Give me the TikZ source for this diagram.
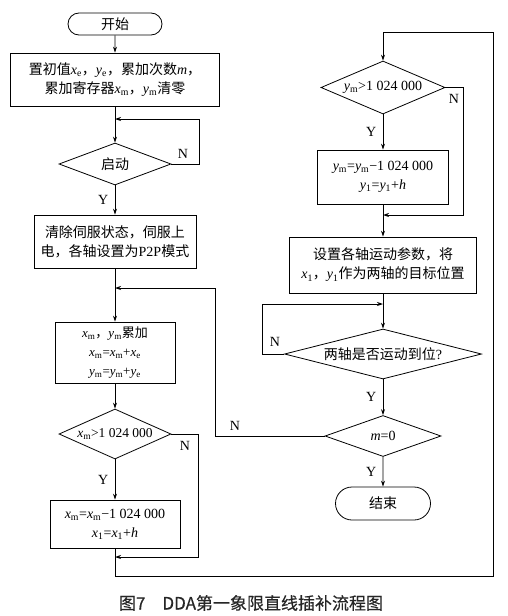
\documentclass[tikz,border=0pt]{standalone}
\usepackage{fontspec}
\setmainfont{Noto Sans CJK SC}
\newfontfamily\tnr{Liberation Serif}
\newfontfamily\capfont[FakeBold=0.4]{Noto Sans CJK SC}
\usetikzlibrary{positioning,shapes.geometric,shapes.misc,arrows.meta}
\tikzset{>={Stealth[length=6pt,width=4pt]}}
\newcommand\vs[2]{{\tnr\textit{#1}\textsubscript{#2}}}
\newcommand\vi[1]{{\tnr\textit{#1}}}
\newcommand\tn[1]{{\tnr #1}}
\begin{document}
\begin{tikzpicture}[x=1pt,y=-1pt,line width=0.8pt,
  every node/.style={font=\fontsize{14}{19}\selectfont},
  proc/.style={draw,rectangle,align=center,inner sep=0pt},
  test/.style={draw,diamond,inner sep=0pt},
  term/.style={draw,rounded rectangle,inner sep=0pt},
  yn/.style={font=\tnr\fontsize{14}{14}\selectfont}]
\useasboundingbox (0,0) rectangle (508,616);
% left column
\node[term,minimum width=94pt,minimum height=22pt] (start) at (115,24) {开始};
\node[proc,minimum width=209pt,minimum height=53pt] (init) at (115,79.5) {置初值\vs{x}{e}，\vs{y}{e}，累加次数\vi{m}，\\累加寄存器\vs{x}{m}，\vs{y}{m}清零};
\node[test,minimum width=112pt,minimum height=42pt,aspect=2.67] (go) at (115,164) {启动};
\node[proc,minimum width=162pt,minimum height=53pt] (servo) at (115,241.5) {清除伺服状态，伺服上\\电，各轴设置为\tn{P2P}模式};
\node[proc,minimum width=120pt,minimum height=61pt,font=\fontsize{13}{19}\selectfont] (acc) at (115,352.5) {\vs{x}{m}，\vs{y}{m}累加\\\vs{x}{m}\tn{=}\vs{x}{m}\tn{+}\vs{x}{e}\\\vs{y}{m}\tn{=}\vs{y}{m}\tn{+}\vs{y}{e}};
\node[test,minimum width=112pt,minimum height=50pt,aspect=2.24,font=\fontsize{13.5}{16}\selectfont] (xover) at (115,434) {\vs{x}{m}\tn{>1 024 000}};
\node[proc,minimum width=130pt,minimum height=48pt] (xstep) at (115,524) {\vs{x}{m}\tn{=}\vs{x}{m}\tn{−1 024 000}\\\vs{x}{1}\tn{=}\vs{x}{1}\tn{+}\vi{h}};
% right column
\node[test,minimum width=124pt,minimum height=53pt,aspect=2.34] (yover) at (383,87.5) {\vs{y}{m}\tn{>1 024 000}};
\node[proc,minimum width=131pt,minimum height=54pt] (ystep) at (383,177) {\vs{y}{m}\tn{=}\vs{y}{m}\tn{−1 024 000}\\\vs{y}{1}\tn{=}\vs{y}{1}\tn{+}\vi{h}};
\node[proc,minimum width=187pt,minimum height=56pt] (setp) at (383,265) {设置各轴运动参数，将\\\vs{x}{1}，\vs{y}{1}作为两轴的目标位置};
\node[test,minimum width=197pt,minimum height=50pt,aspect=3.94] (arrive) at (383,354) {两轴是否运动到位\tn{?}};
\node[test,minimum width=116pt,minimum height=41pt,aspect=2.83] (mzero) at (383,436) {\vi{m}\tn{=0}};
\node[term,minimum width=95pt,minimum height=33pt] (stop) at (383,503.5) {结束};
% joins
\coordinate (j1) at (115,119);
\coordinate (j2) at (115,288);
\coordinate (j3) at (115,557);
\coordinate (j4) at (383,215);
\coordinate (j5) at (383,304);
\coordinate (b1) at (115,576);
\coordinate (b2) at (493,32);
\draw[->] (start) -- (init);
\draw[->] (init) -- (go);
\draw[->] (go.east) -- ++(28,0) |- (j1);
\node[yn] at (183,154) {N};
\draw[->] (go) -- node[yn,left=3pt] {Y} (servo);
\draw[->] (servo) -- (acc);
\draw[->] (acc) -- (xover);
\draw[->] (xover) -- node[yn,left=3pt] {Y} (xstep);
\draw[->] (xover.east) -- ++(27,0) |- (j3);
\node[yn] at (185,446) {N};
\draw[->] (xstep) -- (b1) -| (b2) -| (yover);
\draw[->] (yover) -- node[yn,left=3pt] {Y} (ystep);
\draw[->] (yover.east) -- ++(18,0) |- (j4);
\node[yn] at (454,99) {N};
\draw[->] (ystep) -- (setp);
\draw[->] (setp) -- (arrive);
\draw[->] (arrive.west) -- ++(-22,0) |- (j5);
\node[yn] at (275,342) {N};
\draw[->] (arrive) -- node[yn,left=3pt] {Y} (mzero);
\draw[->] (mzero) -- node[yn,left=3pt] {Y} (stop);
\draw[->] (mzero.west) -- ++(-109,0) |- (j2);
\node[yn] at (235,426) {N};
% caption
\node[font=\capfont\fontsize{17}{17}\selectfont,text=black!85] (cap) at (251,603) {图7\quad DDA第一象限直线插补流程图};
\end{tikzpicture}
\end{document}
